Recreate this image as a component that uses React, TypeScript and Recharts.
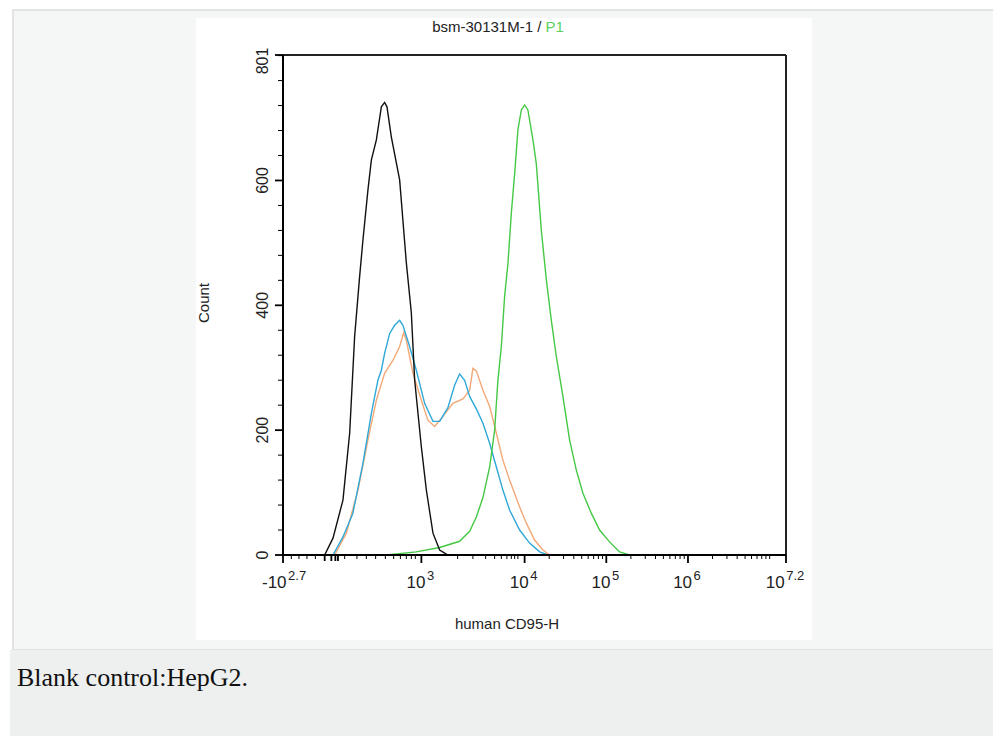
import { LineChart, Line, XAxis, YAxis, ReferenceLine } from "recharts";

// x values are positions on the logicle display axis, in decade units
// (10^4 = 4, 10^5 = 5 ...); y values are event counts
const controlCurve = [
  [1.552, 0], [1.654, 27], [1.776, 88], [1.858, 195], [1.919, 350], [1.98, 446],
  [2.021, 505], [2.082, 585], [2.124, 633], [2.185, 665], [2.246, 718], [2.286, 725],
  [2.315, 718], [2.368, 670], [2.47, 601], [2.552, 468], [2.613, 388], [2.654, 280],
  [2.736, 173], [2.797, 104], [2.878, 35], [2.96, 8], [3.021, 3], [3.06, 0],
];

const isotypeCurve = [
  [1.674, 0], [1.818, 35], [1.96, 104], [2.082, 184], [2.185, 248], [2.286, 291],
  [2.388, 312], [2.47, 334], [2.519, 356], [2.552, 344], [2.633, 291], [2.736, 248],
  [2.816, 216], [2.898, 206], [3.0, 222], [3.122, 243], [3.245, 250], [3.327, 264],
  [3.367, 299], [3.409, 295], [3.49, 264], [3.572, 238], [3.654, 195], [3.734, 152],
  [3.816, 120], [3.939, 77], [4.021, 51], [4.122, 24], [4.224, 8], [4.306, 0],
];

const unstainedCurve = [
  [1.654, 0], [1.776, 29], [1.898, 67], [2.021, 147], [2.124, 227], [2.204, 280],
  [2.246, 296], [2.286, 323], [2.348, 355], [2.409, 368], [2.47, 376], [2.51, 368],
  [2.592, 334], [2.674, 296], [2.776, 243], [2.878, 214], [2.96, 214], [3.061, 236],
  [3.143, 272], [3.204, 290], [3.266, 280], [3.327, 254], [3.409, 234], [3.49, 211],
  [3.572, 179], [3.654, 141], [3.734, 104], [3.816, 72], [3.939, 40], [4.061, 19],
  [4.184, 5], [4.285, 0],
];

const antibodyCurve = [
  [2.307, 0], [2.674, 5], [2.96, 12], [3.204, 22], [3.327, 38], [3.409, 61],
  [3.49, 92], [3.572, 141], [3.633, 200], [3.673, 280], [3.715, 334], [3.755, 414],
  [3.796, 467], [3.837, 547], [3.878, 611], [3.918, 681], [3.96, 713], [4.0, 721],
  [4.04, 713], [4.102, 665], [4.143, 627], [4.204, 521], [4.266, 441], [4.327, 376],
  [4.388, 318], [4.469, 254], [4.551, 184], [4.633, 136], [4.714, 99], [4.816, 67],
  [4.918, 40], [5.04, 21], [5.163, 5], [5.285, 0],
];

const xMajorTicks = [1.042, 2.736, 4, 5, 6, 7.2];
const xMajorLabels = [
  ["-10", "2.7"], ["10", "3"], ["10", "4"], ["10", "5"], ["10", "6"], ["10", "7.2"],
];
const xLinearTicks = [
  1.144, 1.237, 1.335, 1.438, 1.552, 1.634, 1.683, 1.715, 1.797, 1.947, 2.062,
  2.176, 2.295, 2.397, 2.479, 2.552, 2.613, 2.662,
];
const xFirstDecadeTicks = [3.18, 3.367, 3.523, 3.633, 3.715, 3.783, 3.837, 3.878, 3.918];
const xZeroCluster = [1.552, 1.634, 1.683, 1.715];

const yMajorTicks = [0, 200, 400, 600, 801];
const yMinorStep = 40;
const Y_MAX = 801;
const X_MIN = 1.042;
const X_MAX = 7.2;

const logMinor: number[] = [];
[4, 5, 6].forEach((d) => {
  for (let k = 2; k <= 9; k++) logMinor.push(+(d + Math.log10(k)).toFixed(4));
});
logMinor.push(7);

const xTicks = [...xMajorTicks, ...xLinearTicks, ...xFirstDecadeTicks, ...logMinor].sort((a, b) => a - b);
const yTicks: number[] = [];
for (let v = 0; v < Y_MAX; v += yMinorStep) yTicks.push(v);
yTicks.push(Y_MAX);

const toPoints = (c: number[][]) => c.map(([x, y]) => ({ x, y }));

const font = "Arial, 'Liberation Sans', sans-serif";

const XTick = (props: any) => {
  const { x, y, payload } = props;
  const v = payload.value;
  const i = xMajorTicks.indexOf(v);
  const major = i >= 0;
  const len = major ? 8 : xZeroCluster.includes(v) ? 6 : 4;
  const w = major || xZeroCluster.includes(v) ? 1.8 : 1;
  return (
    <g>
      <line x1={x} x2={x} y1={y} y2={y + len} stroke="#000" strokeWidth={w} />
      {major && (
        <text
          x={i === 0 ? x - 21 : x - 1}
          y={y + 33}
          textAnchor={i === 0 ? "start" : "middle"}
          fontFamily={font}
          fontSize={17}
          fill="#222"
        >
          {xMajorLabels[i][0]}
          <tspan dx={1.5} dy={-8} fontSize={13}>
            {xMajorLabels[i][1]}
          </tspan>
        </text>
      )}
    </g>
  );
};

const YTick = (props: any) => {
  const { x, y, payload } = props;
  const v = payload.value;
  const major = yMajorTicks.includes(v);
  const ly = v === Y_MAX ? y + 6 : y;
  const lx = x - 15;
  return (
    <g>
      <line x1={x - (major ? 8 : 5)} x2={x} y1={y} y2={y} stroke="#000" strokeWidth={major ? 1.8 : 1} />
      {major && (
        <text
          x={lx}
          y={ly}
          transform={`rotate(-90, ${lx}, ${ly})`}
          textAnchor="middle"
          fontFamily={font}
          fontSize={16}
          fill="#222"
        >
          {v}
        </text>
      )}
    </g>
  );
};

export default function App() {
  return (
    <div style={{ position: "absolute", left: 0, top: 0, width: 993, height: 736, background: "#fff", overflow: "hidden" }}>
      <div
        style={{
          position: "absolute",
          left: 12,
          top: 9,
          width: 990,
          height: 638,
          background: "#f5f6f6",
          border: "2px solid #e2e4e4",
        }}
      />
      <div style={{ position: "absolute", left: 10, top: 650, width: 990, height: 90, background: "#eef0f0" }}>
        <div
          style={{
            position: "absolute",
            left: 7,
            top: 13,
            fontFamily: "'Times New Roman', 'Liberation Serif', serif",
            fontSize: 26,
            color: "#111",
            whiteSpace: "nowrap",
          }}
        >
          Blank control:HepG2.
        </div>
      </div>
      <div style={{ position: "absolute", left: 196, top: 18, width: 616, height: 622, background: "#fff" }}>
        <div
          style={{
            position: "absolute",
            left: -6,
            width: 616,
            top: 0,
            textAlign: "center",
            fontFamily: font,
            fontSize: 15,
            color: "#222",
          }}
        >
          <span>bsm-30131M-1 / </span>
          <span style={{ color: "#5ad15a" }}>P1</span>
        </div>
        <div
          style={{
            position: "absolute",
            left: 3,
            width: 616,
            top: 597,
            textAlign: "center",
            fontFamily: font,
            fontSize: 15,
            color: "#222",
          }}
        >
          human CD95-H
        </div>
        <svg width={30} height={80} style={{ position: "absolute", left: 0, top: 245 }}>
          <text x={13} y={40} transform="rotate(-90, 13, 40)" textAnchor="middle" fontFamily={font} fontSize={15} fill="#222">
            Count
          </text>
        </svg>
        <LineChart
          width={616}
          height={622}
          margin={{ top: 37, right: 26, bottom: 0, left: 0 }}
          style={{ position: "absolute", left: 0, top: 0 }}
        >
          <XAxis
            type="number"
            dataKey="x"
            domain={[X_MIN, X_MAX]}
            ticks={xTicks}
            interval={0}
            allowDataOverflow
            height={85}
            tickSize={0}
            tickMargin={0}
            tick={<XTick />}
            axisLine={{ stroke: "#000", strokeWidth: 2 }}
          />
          <YAxis
            type="number"
            domain={[0, Y_MAX]}
            ticks={yTicks}
            interval={0}
            allowDataOverflow
            width={87}
            tickSize={0}
            tickMargin={0}
            tick={<YTick />}
            axisLine={{ stroke: "#000", strokeWidth: 2 }}
          />
          <ReferenceLine y={Y_MAX} stroke="#222" strokeWidth={2} ifOverflow="visible" />
          <ReferenceLine x={X_MAX} stroke="#222" strokeWidth={2} ifOverflow="visible" />
          <Line data={toPoints(isotypeCurve)} dataKey="y" type="linear" stroke="#f3a878" strokeWidth={1.4} dot={false} isAnimationActive={false} />
          <Line data={toPoints(unstainedCurve)} dataKey="y" type="linear" stroke="#2fa8d8" strokeWidth={1.4} dot={false} isAnimationActive={false} />
          <Line data={toPoints(antibodyCurve)} dataKey="y" type="linear" stroke="#45c845" strokeWidth={1.4} dot={false} isAnimationActive={false} />
          <Line data={toPoints(controlCurve)} dataKey="y" type="linear" stroke="#111" strokeWidth={1.4} dot={false} isAnimationActive={false} />
        </LineChart>
      </div>
    </div>
  );
}
